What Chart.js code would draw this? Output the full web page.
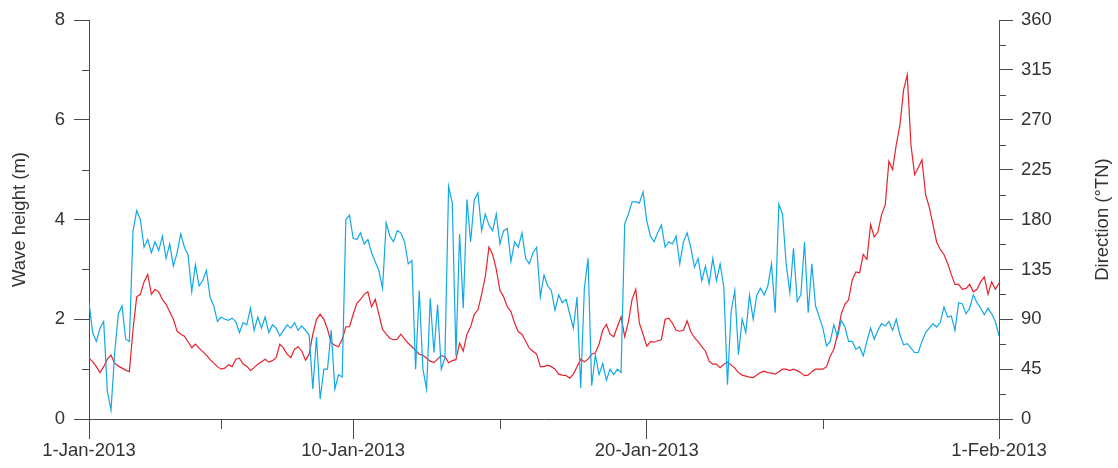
<!DOCTYPE html>
<html>
<head>
<meta charset="utf-8">
<script src="https://cdn.jsdelivr.net/npm/chart.js@4.4.1/dist/chart.umd.min.js"></script>
<style>
html,body{margin:0;padding:0;background:#fff;}
#wrap{width:1118px;height:468px;}
</style>
</head>
<body>
<div id="wrap"><canvas id="c" width="1118" height="468"></canvas></div>
<script>
// samples every 3 hours starting 1-Jan-2013 00:00
var stepHours = 3;

// significant wave height (m)
var waveHeight = [
    1.22, 1.15, 1.05, 0.93, 1.05, 1.20, 1.28, 1.12,
    1.06, 1.02, 0.98, 0.95, 1.80, 2.45, 2.50, 2.75,
    2.90, 2.50, 2.60, 2.55, 2.40, 2.30, 2.15, 2.00,
    1.76, 1.70, 1.66, 1.55, 1.43, 1.50, 1.42, 1.35,
    1.28, 1.19, 1.12, 1.05, 1.00, 1.02, 1.09, 1.05,
    1.20, 1.22, 1.10, 1.06, 0.97, 1.03, 1.10, 1.15,
    1.20, 1.14, 1.17, 1.23, 1.50, 1.42, 1.30, 1.23,
    1.40, 1.45, 1.36, 1.18, 1.30, 1.70, 2.00, 2.10,
    2.00, 1.80, 1.53, 1.48, 1.45, 1.60, 1.85, 1.85,
    2.10, 2.32, 2.40, 2.50, 2.55, 2.25, 2.40, 2.10,
    1.80, 1.70, 1.62, 1.59, 1.60, 1.70, 1.60, 1.52,
    1.45, 1.38, 1.30, 1.28, 1.22, 1.16, 1.13, 1.20,
    1.27, 1.25, 1.13, 1.17, 1.19, 1.52, 1.36, 1.70,
    1.85, 2.10, 2.19, 2.50, 2.85, 3.45, 3.30, 3.00,
    2.58, 2.45, 2.25, 2.15, 1.92, 1.75, 1.70, 1.56,
    1.42, 1.36, 1.30, 1.05, 1.05, 1.08, 1.05, 1.00,
    0.90, 0.88, 0.87, 0.82, 0.90, 1.05, 1.20, 1.15,
    1.20, 1.30, 1.33, 1.50, 1.78, 1.90, 1.70, 1.65,
    1.85, 2.05, 1.65, 1.95, 2.40, 2.60, 1.92, 1.70,
    1.46, 1.55, 1.54, 1.57, 1.59, 2.00, 2.02, 1.92,
    1.78, 1.76, 1.78, 1.97, 1.75, 1.63, 1.55, 1.45,
    1.36, 1.16, 1.10, 1.10, 1.03, 1.10, 1.14, 1.08,
    1.02, 0.93, 0.88, 0.86, 0.84, 0.83, 0.88, 0.93,
    0.96, 0.93, 0.92, 0.90, 0.95, 1.00, 1.00, 0.97,
    1.00, 0.97, 0.93, 0.87, 0.88, 0.95, 1.00, 1.00,
    1.00, 1.05, 1.26, 1.40, 1.70, 2.10, 2.30, 2.39,
    2.79, 2.95, 2.93, 3.30, 3.20, 3.90, 3.65, 3.75,
    4.10, 4.30, 5.17, 5.00, 5.50, 5.90, 6.60, 6.90,
    5.50, 4.90, 5.04, 5.20, 4.50, 4.25, 3.90, 3.55,
    3.40, 3.30, 3.12, 2.90, 2.70, 2.70, 2.60, 2.62,
    2.70, 2.55, 2.60, 2.75, 2.85, 2.50, 2.75, 2.60,
    2.72
];

// wave direction (deg TN)
var direction = [
    105, 78, 70, 82, 88, 25, 8, 60,
    95, 102, 72, 70, 170, 188, 180, 155,
    162, 150, 160, 152, 165, 145, 158, 138,
    150, 167, 155, 148, 115, 139, 120, 125,
    134, 110, 102, 88, 92, 90, 89, 91,
    88, 78, 87, 85, 100, 80, 92, 82,
    92, 78, 85, 82, 75, 80, 85, 82,
    87, 80, 84, 80, 76, 27, 74, 18,
    45, 45, 80, 27, 40, 38, 180, 184,
    163, 162, 168, 158, 162, 150, 142, 134,
    118, 177, 165, 160, 170, 168, 160, 140,
    143, 45, 116, 45, 27, 109, 60, 103,
    45, 55, 210, 195, 57, 167, 100, 198,
    160, 198, 204, 170, 185, 175, 170, 185,
    158, 170, 172, 142, 160, 155, 168, 145,
    140, 150, 155, 110, 130, 120, 116, 98,
    112, 105, 108, 95, 82, 110, 28, 118,
    145, 30, 58, 40, 50, 35, 45, 40,
    45, 42, 176, 185, 196, 196, 195, 205,
    179, 165, 160, 168, 175, 155, 160, 158,
    165, 140, 160, 168, 155, 137, 145, 125,
    138, 122, 145, 125, 140, 119, 31, 97,
    116, 58, 90, 78, 112, 90, 112, 118,
    112, 120, 140, 96, 194, 185, 140, 114,
    154, 106, 112, 160, 96, 140, 102, 92,
    82, 66, 70, 85, 74, 89, 83, 70,
    70, 63, 65, 57, 70, 82, 72, 80,
    86, 84, 88, 80, 90, 76, 67, 68,
    64, 60, 60, 70, 78, 82, 86, 83,
    87, 101, 92, 93, 80, 105, 104, 95,
    100, 112, 105, 100, 94, 100, 95, 88,
    75
];

// x axis (days since 1-Jan-2013)
var tickDays = [0, 9, 19, 31];
var tickLabels = ['1-Jan-2013', '10-Jan-2013', '20-Jan-2013', '1-Feb-2013'];
var minorDays = [4.5, 14, 25];
var heightMinor = [1, 3, 5, 7];
var dirMinor = [22.5, 67.5, 112.5, 157.5, 202.5, 247.5, 292.5, 337.5];

var axisColor = '#4a4a4a';
var textColor = '#333333';
var fontFam = "'Liberation Sans', Arial, Helvetica, sans-serif";

function toPoints(arr){
    var out = [];
    for (var i = 0; i < arr.length; i++) out.push({x: i * stepHours / 24, y: arr[i]});
    return out;
}

// short minor ticks, MATLAB style
var minorTicks = {
    id: 'minorTicks',
    afterDraw: function(chart){
        var ctx = chart.ctx, s = chart.scales;
        ctx.save();
        ctx.strokeStyle = axisColor;
        ctx.lineWidth = 1;
        ctx.beginPath();
        minorDays.forEach(function(d){
            var px = Math.round(s.x.getPixelForValue(d)) + 0.5;
            ctx.moveTo(px, s.x.top); ctx.lineTo(px, s.x.top + 10);
        });
        heightMinor.forEach(function(v){
            var py = Math.round(s.yH.getPixelForValue(v)) + 0.5;
            ctx.moveTo(s.yH.right, py); ctx.lineTo(s.yH.right - 7, py);
        });
        dirMinor.forEach(function(v){
            var py = Math.round(s.yD.getPixelForValue(v)) + 0.5;
            ctx.moveTo(s.yD.left, py); ctx.lineTo(s.yD.left + 7, py);
        });
        ctx.stroke();

        // right title reads bottom to top
        ctx.fillStyle = textColor;
        ctx.font = '18.5px ' + fontFam;
        ctx.textAlign = 'center';
        ctx.textBaseline = 'middle';
        ctx.translate(1103, (s.yD.top + s.yD.bottom) / 2);
        ctx.rotate(-Math.PI / 2);
        ctx.fillText('Direction (\u00B0TN)', 0, 0);
        ctx.restore();
    }
};

var tickFont = { family: fontFam, size: 18.5 };

new Chart(document.getElementById('c'), {
    type: 'line',
    data: {
        datasets: [{
            label: 'Direction',
            data: toPoints(direction),
            yAxisID: 'yD',
            borderColor: '#12a8e6',
            borderWidth: 1.2,
            pointRadius: 0,
            tension: 0,
            order: 0
        }, {
            label: 'Wave height',
            data: toPoints(waveHeight),
            yAxisID: 'yH',
            borderColor: '#e8222c',
            borderWidth: 1.2,
            pointRadius: 0,
            tension: 0,
            order: 1
        }]
    },
    options: {
        responsive: false,
        animation: false,
        events: [],
        layout: { padding: { top: 20, left: 0, right: 0, bottom: 0 } },
        plugins: { legend: { display: false }, tooltip: { enabled: false } },
        scales: {
            x: {
                type: 'linear',
                min: 0, max: 31,
                afterBuildTicks: function(sc){ sc.ticks = tickDays.map(function(v){ return {value: v}; }); },
                afterFit: function(sc){ sc.height = 49; },
                ticks: {
                    autoSkip: false, maxRotation: 0, padding: 1,
                    color: textColor, font: tickFont,
                    callback: function(v){ var i = tickDays.indexOf(v); return i >= 0 ? tickLabels[i] : ''; }
                },
                grid: { drawOnChartArea: false, tickLength: 20, tickColor: axisColor },
                border: { color: axisColor, width: 1 }
            },
            yH: {
                type: 'linear', position: 'left',
                min: 0, max: 8,
                afterFit: function(sc){ sc.width = 89; },
                ticks: { stepSize: 2, padding: 9, color: textColor, font: tickFont },
                grid: { drawOnChartArea: false, tickLength: 15, tickColor: axisColor },
                border: { color: axisColor, width: 1 },
                title: { display: true, text: 'Wave height (m)', color: textColor, font: tickFont, padding: { top: 9, bottom: 0 } }
            },
            yD: {
                type: 'linear', position: 'right',
                min: 0, max: 360,
                afterFit: function(sc){ sc.width = 119; },
                ticks: { stepSize: 45, padding: 8, color: textColor, font: tickFont },
                grid: { drawOnChartArea: false, tickLength: 14, tickColor: axisColor },
                border: { color: axisColor, width: 1 }
            }
        }
    },
    plugins: [minorTicks]
});
</script>
</body>
</html>
